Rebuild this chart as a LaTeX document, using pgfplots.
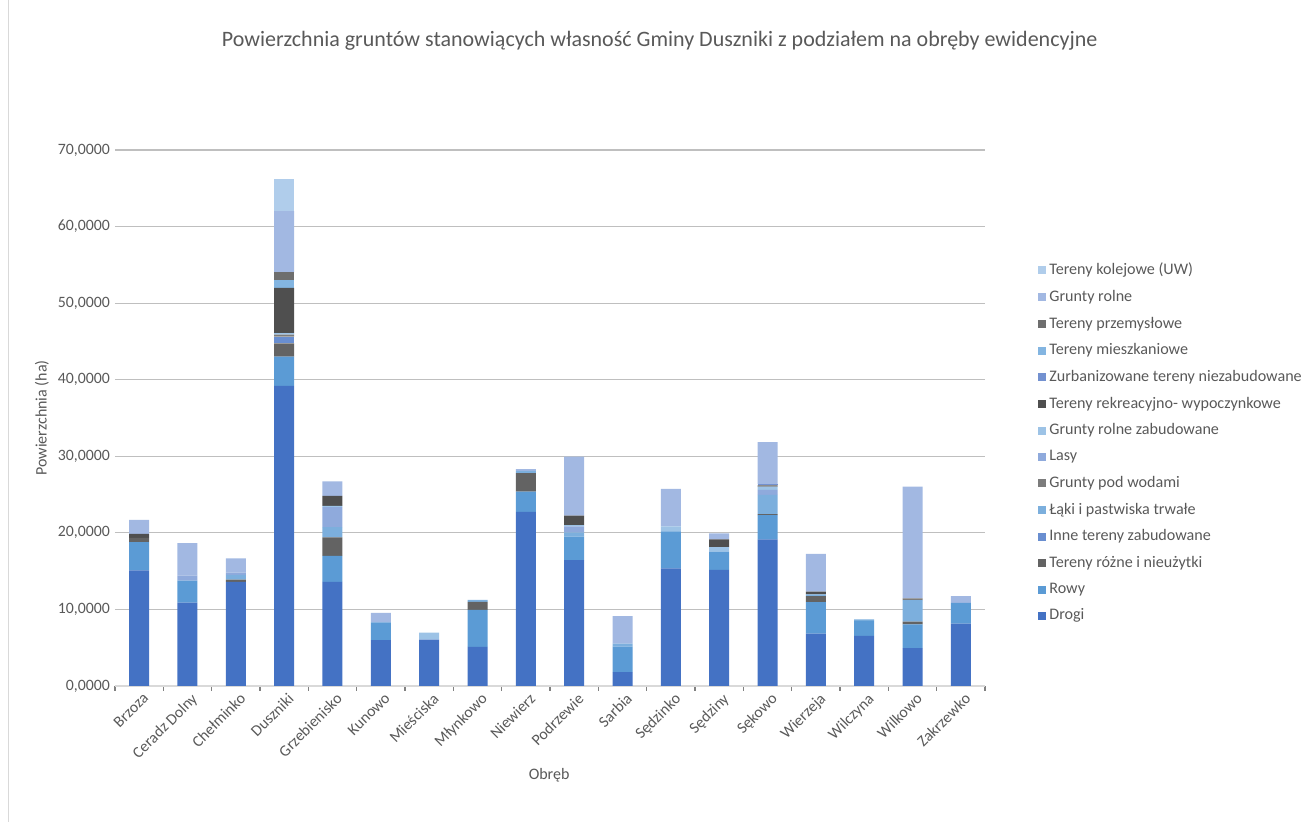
\documentclass[border=0pt]{standalone}
\usepackage{fontspec}
\setmainfont{Carlito}
\usepackage{pgfplots}
\usepackage{pgfplotstable}
\pgfplotsset{compat=1.18}
\definecolor{txt}{HTML}{595959}
\definecolor{grid}{HTML}{D9D9D9}
\definecolor{cA}{HTML}{4472C4}
\definecolor{cB}{HTML}{5B9BD5}
\definecolor{cC}{HTML}{636363}
\definecolor{cD}{HTML}{698ED0}
\definecolor{cE}{HTML}{7CAFDD}
\definecolor{cF}{HTML}{7C7C7C}
\definecolor{cG}{HTML}{8FAADC}
\definecolor{cH}{HTML}{9DC3E6}
\definecolor{cI}{HTML}{4F4F4F}
\definecolor{cJ}{HTML}{7391D0}
\definecolor{cK}{HTML}{83B5E1}
\definecolor{cL}{HTML}{6E6E6E}
\definecolor{cM}{HTML}{A2B8E2}
\definecolor{cN}{HTML}{B0CDEB}
\pgfplotstableread{
x dr ro tr it lp gw la gz re zu me pr gr ko
0 15.10 3.70 0.55 0 0 0 0 0 0.50 0 0 0 1.85 0
1 10.90 2.85 0 0 0 0 0.65 0 0 0 0 0 4.25 0
2 13.60 0 0.30 0 0.60 0 0.30 0 0 0 0 0 1.85 0
3 39.20 3.80 1.75 0.87 0 0.26 0 0.22 5.88 0 1.04 1.00 8.00 4.15
4 13.60 3.40 2.40 0 1.35 0 2.60 0.17 1.31 0 0 0 1.90 0
5 6.00 2.30 0 0 0 0 0 0 0 0 0 0 1.25 0
6 6.05 0 0 0 0 0 0 0.93 0 0 0 0 0 0
7 5.10 4.85 1.05 0 0.25 0 0 0 0 0 0 0 0 0
8 22.75 2.65 2.40 0 0.30 0 0 0 0 0 0 0 0.22 0
9 16.45 3.05 0 0 0.55 0 0.80 0.15 1.25 0 0 0 7.70 0
10 1.80 3.35 0 0 0.37 0 0 0 0 0 0 0 3.60 0
11 15.35 4.85 0 0 0 0 0 0.65 0 0 0 0 4.90 0
12 15.15 2.40 0 0 0 0 0 0.60 1.00 0 0 0 0.78 0
13 19.15 3.18 0.13 0 2.50 0 0.65 0.43 0.17 0.13 0 0 5.50 0
14 6.85 4.10 0.80 0 0.22 0 0 0 0.35 0 0 0 4.95 0
15 6.55 1.95 0 0 0.20 0 0 0 0 0 0 0 0 0
16 4.95 3.10 0.37 0 2.80 0.23 0 0 0 0 0 0 14.60 0
17 8.15 2.70 0 0 0 0 0 0 0 0 0 0 0.90 0
}\data
\begin{document}
\begin{tikzpicture}
\path[use as bounding box] (0,0) rectangle (654pt,411pt);
\draw[grid, line width=0.5pt] (4pt,0) -- (4pt,411pt);
\begin{axis}[
  at={(57.5pt,68pt)}, anchor=south west,
  scale only axis, width=435pt, height=268pt,
  ybar stacked, bar width=10pt,
  xmin=-0.5, xmax=17.5, ymin=0, ymax=70,
  ytick={0,10,...,70},
  xtick=data,
  xticklabels={Brzoza,Ceradz Dolny,Chełminko,Duszniki,Grzebienisko,Kunowo,Mieściska,Młynkowo,Niewierz,Podrzewie,Sarbia,Sędzinko,Sędziny,Sękowo,Wierzeja,Wilczyna,Wilkowo,Zakrzewko},
  minor xtick={-0.5,0.5,...,17.5},
  major tick length=0pt, minor tick length=2.5pt,
  tick align=outside,
  minor tick style={grid, line width=0.6pt},
  axis x line*=bottom, axis y line*=left,
  x axis line style={grid, line width=0.6pt},
  y axis line style={draw=none},
  xmajorgrids=false, xminorgrids=false,
  ymajorgrids=true, grid style={grid, line width=0.6pt},
  tick label style={font=\fontsize{7.9}{9}\selectfont, text=txt},
  /pgf/number format/.cd, fixed, fixed zerofill, precision=4, use comma, 1000 sep={}, assume math mode=true,
  /pgfplots/.cd,
  yticklabel style={anchor=east, xshift=1pt},
  xticklabel style={rotate=45, anchor=north east, inner sep=1pt, yshift=-2pt},
  ylabel={Powierzchnia (ha)},
  ylabel style={at={(axis description cs:-0.084,0.5)}, anchor=center, font=\fontsize{8}{9}\selectfont, text=txt},
  xlabel={Obręb},
  xlabel style={at={(axis description cs:0.499,-0.166)}, anchor=center, font=\fontsize{8}{9}\selectfont, text=txt},
  title={Powierzchnia gruntów stanowiących własność Gminy Duszniki z podziałem na obręby ewidencyjne},
  title style={at={(axis description cs:0.626,1.181)}, anchor=center, font=\fontsize{11}{13}\selectfont, text=txt},
  reverse legend,
  legend cell align=left,
  legend style={at={(axis description cs:1.054,0.803)}, anchor=north west, draw=none, fill=none,
    font=\fontsize{8.05}{10}\selectfont, text=txt, row sep=3.25pt,
    nodes={inner sep=1.5pt}},
  legend image code/.code={\fill[#1] (0pt,-2pt) rectangle (4pt,2pt);},
]
\addplot[fill=cA, draw=none] table[x=x, y=dr]{\data};
\addlegendentry{Drogi}
\addplot[fill=cB, draw=none] table[x=x, y=ro]{\data};
\addlegendentry{Rowy}
\addplot[fill=cC, draw=none] table[x=x, y=tr]{\data};
\addlegendentry{Tereny różne i nieużytki}
\addplot[fill=cD, draw=none] table[x=x, y=it]{\data};
\addlegendentry{Inne tereny zabudowane}
\addplot[fill=cE, draw=none] table[x=x, y=lp]{\data};
\addlegendentry{Łąki i pastwiska trwałe}
\addplot[fill=cF, draw=none] table[x=x, y=gw]{\data};
\addlegendentry{Grunty pod wodami}
\addplot[fill=cG, draw=none] table[x=x, y=la]{\data};
\addlegendentry{Lasy}
\addplot[fill=cH, draw=none] table[x=x, y=gz]{\data};
\addlegendentry{Grunty rolne zabudowane}
\addplot[fill=cI, draw=none] table[x=x, y=re]{\data};
\addlegendentry{Tereny rekreacyjno- wypoczynkowe}
\addplot[fill=cJ, draw=none] table[x=x, y=zu]{\data};
\addlegendentry{Zurbanizowane tereny niezabudowane}
\addplot[fill=cK, draw=none] table[x=x, y=me]{\data};
\addlegendentry{Tereny mieszkaniowe}
\addplot[fill=cL, draw=none] table[x=x, y=pr]{\data};
\addlegendentry{Tereny przemysłowe}
\addplot[fill=cM, draw=none] table[x=x, y=gr]{\data};
\addlegendentry{Grunty rolne}
\addplot[fill=cN, draw=none] table[x=x, y=ko]{\data};
\addlegendentry{Tereny kolejowe (UW)}
\end{axis}
\end{tikzpicture}
\end{document}
